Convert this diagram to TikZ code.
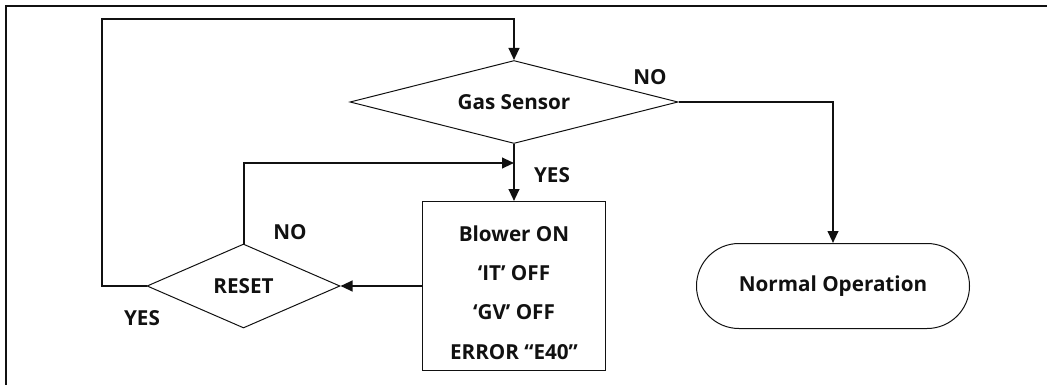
\documentclass[tikz,border=0pt]{standalone}
\usepackage{fontspec}
\setmainfont{Open Sans}
\usetikzlibrary{arrows.meta,shapes.geometric}
\definecolor{Ink}{HTML}{111111}
\tikzset{
  decisionbox/.style={draw=Ink,diamond,aspect=4,inner sep=0pt,line width=0.75pt,font=\fontsize{15.5}{18}\selectfont\bfseries,text=Ink},
  actionbox/.style={draw=Ink,rectangle,line width=0.75pt,minimum width=137.25pt,minimum height=126.75pt,align=center,font=\fontsize{15.5}{29.6}\selectfont\bfseries,text=Ink},
  endbox/.style={draw=Ink,rectangle,rounded corners=31.8pt,line width=0.75pt,minimum width=204.75pt,minimum height=63.75pt,font=\fontsize{15.5}{18}\selectfont\bfseries,text=Ink},
  line/.style={-{Triangle[length=9pt,width=8pt]},draw=Ink,line width=1.5pt},
  tag/.style={font=\fontsize{15.5}{18}\selectfont\bfseries,text=Ink,inner sep=0pt}
}

\begin{document}
\begin{tikzpicture}[x=0.75pt,y=-0.75pt]
  \useasboundingbox (0,0) rectangle (1047,385);
  % frame
  \draw[draw=Ink,line width=1.5pt] (1047,6) -- (6,6) -- (6,385);
  % blocks
  \node[decisionbox,minimum width=246pt,minimum height=62.25pt] (gas) at (514,102) {Gas Sensor};
  \node[actionbox] (act) at (514,286) {\rule{0pt}{21.5pt}Blower ON\\‘IT’ OFF\\‘GV’ OFF\\ERROR “E40”};
  \node[decisionbox,minimum width=144.75pt,minimum height=63pt] (reset) at (243.5,286) {RESET};
  \node[endbox] (normal) at (833,286) {Normal Operation};
  \coordinate (join) at (514,163);
  \coordinate (upper) at (102,19);
  % labels
  \node[tag] (nogas) at (650,77) {NO};
  \node[tag] (yesgas) at (552,175) {YES};
  \node[tag] (noreset) at (290,232) {NO};
  \node[tag] (yesreset) at (142,318) {YES};
  % connectors
  \draw[line] (gas.south) -- (act.north);
  \draw[line] (gas.east) -| (normal.north);
  \draw[line] (act.west) -- (reset.east);
  \draw[line] (reset.north) |- (join);
  \draw[line] (reset.west) -| (upper) -| (gas.north);
\end{tikzpicture}
\end{document}
